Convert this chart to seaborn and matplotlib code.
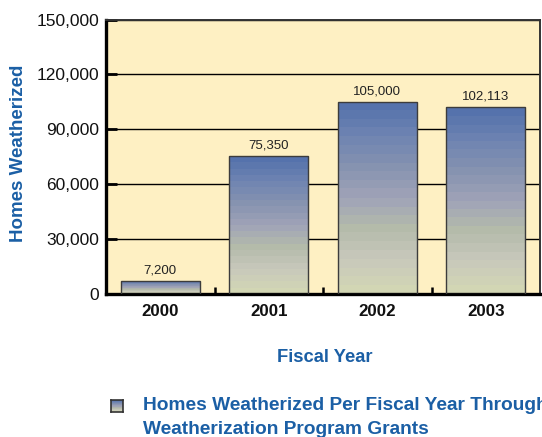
import numpy as np
import pandas as pd
import matplotlib
matplotlib.use("Agg")
import matplotlib.pyplot as plt
from matplotlib.colors import LinearSegmentedColormap
from matplotlib.ticker import FuncFormatter, FixedLocator
import seaborn as sns

# Homes weatherized per fiscal year
years = ["2000", "2001", "2002", "2003"]
homes = [7200, 75350, 105000, 102113]
y_ticks = [0, 30000, 60000, 90000, 120000, 150000]

sns.set_theme(style="white")
plt.rcParams["font.family"] = ["Liberation Sans", "DejaVu Sans"]

BLUE = "#1b5fa5"
PANEL = "#fef0c3"
grad_cmap = LinearSegmentedColormap.from_list(
    "bar_grad",
    ["#d2d6b4", "#c8c8bc", "#b4bbaa", "#a0a3b8", "#8693b0", "#6f84b2", "#5572ac"],
    N=22,
)

df = pd.DataFrame({"year": years, "homes": homes})

fig = plt.figure(figsize=(5.42, 4.37), dpi=100)
ax = fig.add_axes([106 / 542, 143 / 437, 434 / 542, 274.5 / 437])
ax.set_facecolor(PANEL)

sns.barplot(data=df, x="year", y="homes", width=0.73, ax=ax,
            color="#8492b0", edgecolor="#3c3c3c", linewidth=1.0, zorder=3)

# vertical gradient fill clipped to each bar
grad = np.linspace(0, 1, 256).reshape(-1, 1)
for patch in ax.patches:
    x0, y0 = patch.get_x(), patch.get_y()
    w, h = patch.get_width(), patch.get_height()
    patch.set_facecolor("none")
    im = ax.imshow(grad, cmap=grad_cmap, origin="lower", aspect="auto",
                   extent=[x0, x0 + w, y0, y0 + h], zorder=2.5,
                   interpolation="nearest")
    im.set_clip_path(patch)
ax.set_xlim(-0.5, 3.5)
ax.set_ylim(0, 150000)

ax.bar_label(ax.containers[0], labels=[f"{v:,}" for v in homes],
             padding=3, fontsize=9.5, color="#222222")

# axes styling
ax.yaxis.set_major_locator(FixedLocator(y_ticks))
ax.yaxis.set_major_formatter(FuncFormatter(lambda v, p: f"{int(v):,}"))
ax.grid(axis="y", color="black", linewidth=1.0, zorder=1)
ax.set_axisbelow(True)
ax.tick_params(axis="y", direction="in", length=8, width=2.0, pad=5,
               labelsize=12.5, colors="black", left=True)
ax.tick_params(axis="x", which="major", length=0, pad=7, labelsize=12.2)
ax.set_xticks([0.5, 1.5, 2.5], minor=True)
ax.tick_params(axis="x", which="minor", direction="in", length=5, width=1.8,
               bottom=True, color="black")
for lab in ax.get_xticklabels():
    lab.set_fontweight("bold")
    lab.set_color("#111111")
for lab in ax.get_yticklabels():
    lab.set_color("#111111")

ax.set_xlabel("")
ax.set_ylabel("")
for side in ["left", "bottom"]:
    ax.spines[side].set_linewidth(2.4)
    ax.spines[side].set_color("black")
for side in ["top", "right"]:
    ax.spines[side].set_linewidth(1.4)
    ax.spines[side].set_color("#333333")
    ax.spines[side].set_visible(True)

fig.text(18.5 / 542, 1 - 153 / 437, "Homes Weatherized", rotation=90,
         ha="center", va="center", fontsize=13.5, fontweight="bold", color=BLUE)
fig.text(324.5 / 542, 1 - 357 / 437, "Fiscal Year", ha="center", va="center",
         fontsize=13.2, fontweight="bold", color=BLUE)

# legend key and text
key = fig.add_axes([111 / 542, 1 - 412 / 437, 12 / 542, 12 / 437])
key.imshow(grad, cmap=grad_cmap, origin="lower", aspect="auto",
           interpolation="nearest")
key.set_xticks([])
key.set_yticks([])
for s in key.spines.values():
    s.set_color("#333333")
    s.set_linewidth(1.2)
fig.text(143 / 542, 1 - 406 / 437, "Homes Weatherized Per Fiscal Year Through",
         ha="left", va="center", fontsize=13.8, fontweight="bold", color=BLUE)
fig.text(143 / 542, 1 - 430 / 437, "Weatherization Program Grants",
         ha="left", va="center", fontsize=13.8, fontweight="bold", color=BLUE)

fig.savefig("out.png", dpi=100, facecolor="white")
